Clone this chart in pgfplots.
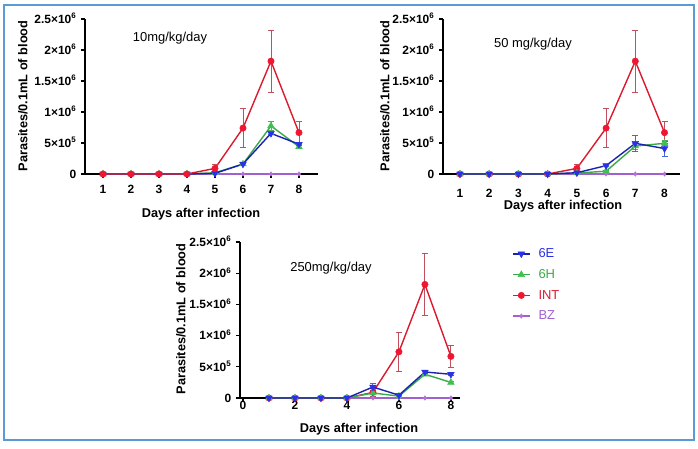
\documentclass[border=0pt]{standalone}
\usepackage{pgfplots}
\pgfplotsset{compat=1.18}
\usepackage{pgfplotstable}
\usepackage{fontspec}
\setmainfont{Liberation Sans}

\definecolor{frameblue}{HTML}{5B9BD5}
\definecolor{eLine}{HTML}{1C22B0}
\definecolor{eMark}{HTML}{2A30E6}
\definecolor{eErr}{HTML}{4A66DA}
\definecolor{hLine}{HTML}{3AAA48}
\definecolor{hMark}{HTML}{40C050}
\definecolor{hErr}{HTML}{46B456}
\definecolor{iLine}{HTML}{DC1A2E}
\definecolor{iMark}{HTML}{EE1630}
\definecolor{iErr}{HTML}{C0505E}
\definecolor{bzLine}{HTML}{A060D0}
\definecolor{bzMark}{HTML}{B86EE0}

% parasitaemia (parasites / 0.1 mL of blood), mean and SD per day
\pgfplotstableread{
day val err
1 0 0
2 0 0
3 0 0
4 0 0
5 90000 60000
6 740000 310000
7 1820000 500000
8 667000 175000
}\intData
\pgfplotstableread{
day val err
1 0 0
2 0 0
3 0 0
4 0 0
5 0 0
6 0 0
7 0 0
8 0 0
}\bzData
% 10 mg/kg/day
\pgfplotstableread{
day val err
1 0 0
2 0 0
3 0 0
4 0 0
5 10000 5000
6 160000 15000
7 655000 20000
8 480000 25000
}\eA
\pgfplotstableread{
day val err
1 0 0
2 0 0
3 0 0
4 0 0
5 20000 10000
6 160000 15000
7 775000 70000
8 440000 30000
}\hA
% 50 mg/kg/day
\pgfplotstableread{
day val err
1 0 0
2 0 0
3 0 0
4 0 0
5 20000 10000
6 135000 15000
7 495000 130000
8 410000 120000
}\eB
\pgfplotstableread{
day val err
1 0 0
2 0 0
3 0 0
4 0 0
5 15000 8000
6 45000 10000
7 450000 50000
8 495000 40000
}\hB
% 250 mg/kg/day
\pgfplotstableread{
day val err
1 0 0
2 0 0
3 0 0
4 0 0
5 176000 50000
6 45000 10000
7 417000 30000
8 380000 25000
}\eC
\pgfplotstableread{
day val err
1 0 0
2 0 0
3 0 0
4 0 0
5 80000 15000
6 30000 5000
7 380000 20000
8 250000 20000
}\hC

\tikzset{
  axlab/.style={font=\bfseries\fontsize{12.8}{14}\selectfont, inner sep=0pt},
  ttl/.style={font=\fontsize{13}{15}\selectfont, inner sep=0pt},
}

\pgfplotsset{
  panel/.style={
    scale only axis, anchor=south west, clip=false,
    height=155bp,
    ymin=0, ymax=2.5e6,
    axis lines=left, axis line style={-, line width=1.3bp},
    ytick={0,500000,1000000,1500000,2000000,2500000},
    yticklabels={0,5×10\textsuperscript{5},1×10\textsuperscript{6},1.5×10\textsuperscript{6},2×10\textsuperscript{6},2.5×10\textsuperscript{6}},
    scaled y ticks=false,
    tick align=outside, major tick length=4bp,
    tick style={black, line width=1.2bp},
    ticklabel style={font=\bfseries\fontsize{12}{14}\selectfont, inner sep=0pt},
    yticklabel style={anchor=base east, xshift=-4.5bp, yshift=-4.3bp},
  },
  sE/.style={eLine, line width=1.4bp, mark=triangle*,
    mark options={rotate=180, fill=eMark, draw=eMark, mark size=3.8bp, line width=0.5bp},
    error bars/.cd, y dir=both, y explicit,
    error bar style={eErr, line width=0.9bp},
    error mark options={eErr, rotate=90, mark size=3bp, line width=0.9bp}},
  sH/.style={hLine, line width=1.4bp, mark=triangle*,
    mark options={fill=hMark, draw=hMark, mark size=3.8bp, line width=0.5bp},
    error bars/.cd, y dir=both, y explicit,
    error bar style={hErr, line width=0.9bp},
    error mark options={hErr, rotate=90, mark size=3bp, line width=0.9bp}},
  sI/.style={iLine, line width=1.4bp, mark=*,
    mark options={fill=iMark, draw=iMark, mark size=3.2bp, line width=0.5bp},
    error bars/.cd, y dir=both, y explicit,
    error bar style={iErr, line width=0.9bp},
    error mark options={iErr, rotate=90, mark size=3bp, line width=0.9bp}},
  sB/.style={bzLine, line width=1.4bp, mark=diamond*,
    mark options={fill=bzMark, draw=bzMark, mark size=2.2bp, line width=0.5bp}},
}

\begin{document}
\begin{tikzpicture}[x=1bp, y=1bp]
\path (0,0) rectangle (698,449);
\draw[frameblue, line width=2bp] (4,9) rectangle (694,444);

% 10 mg/kg/day
\begin{axis}[panel, at={(85bp,275bp)}, width=233bp,
  xmin=0.357, xmax=8.68,
  xtick={1,2,3,4,5,6,7,8}, xticklabels={1,2,3,4,5,6,7,8},
  xticklabel style={anchor=base, yshift=-15.3bp}]
\addplot[sB] table[x=day, y=val]{\bzData};
\addplot[sH] table[x=day, y=val, y error=err]{\hA};
\addplot[sE] table[x=day, y=val, y error=err]{\eA};
\addplot[sI] table[x=day, y=val, y error=err]{\intData};
\end{axis}
\node[axlab, rotate=90] at (23,353) {Parasites/0.1mL of blood};
\node[axlab] at (201,235) {Days after infection};
\node[ttl] at (170,411) {10mg/kg/day};

% 50 mg/kg/day
\begin{axis}[panel, at={(443bp,275bp)}, width=237bp,
  xmin=0.42, xmax=8.53,
  xtick={1,2,3,4,5,6,7,8}, xticklabels={1,2,3,4,5,6,7,8},
  xtick style={draw=none},
  xticklabel style={anchor=base, yshift=-19.3bp}]
\addplot[sB] table[x=day, y=val]{\bzData};
\addplot[sI] table[x=day, y=val, y error=err]{\intData};
\addplot[sH] table[x=day, y=val, y error=err]{\hB};
\addplot[sE] table[x=day, y=val, y error=err]{\eB};
\end{axis}
\node[axlab, rotate=90] at (385,353) {Parasites/0.1mL of blood};
\node[axlab] at (563,243) {Days after infection};
\node[ttl] at (533,405) {50 mg/kg/day};

% 250 mg/kg/day
\begin{axis}[panel, at={(240bp,51bp)}, width=220bp, height=156bp,
  xmin=-0.115, xmax=8.35,
  xtick={0,2,4,6,8}, xticklabels={0,2,4,6,8},
  xticklabel style={anchor=base, yshift=-7.3bp},
  reverse legend,
  legend style={at={(axis description cs:1.236,0.972)}, anchor=north west,
    draw=none, fill=none, font=\fontsize{13}{15}\selectfont,
    row sep=6.3bp, inner sep=0pt},
  legend cell align=left]
\addplot[sB] table[x=day, y=val]{\bzData};
\addlegendentry{\hspace{6bp}\textcolor{bzLine}{BZ}}
\addplot[sI] table[x=day, y=val, y error=err]{\intData};
\addlegendentry{\hspace{6bp}\textcolor{iLine}{INT}}
\addplot[sH] table[x=day, y=val, y error=err]{\hC};
\addlegendentry{\hspace{6bp}\textcolor{hLine}{6H}}
\addplot[sE] table[x=day, y=val, y error=err]{\eC};
\addlegendentry{\hspace{6bp}\textcolor{eMark}{6E}}
\end{axis}
\node[axlab, rotate=90] at (181,130) {Parasites/0.1mL of blood};
\node[axlab] at (359,20) {Days after infection};
\node[ttl] at (331,181) {250mg/kg/day};
\end{tikzpicture}
\end{document}
